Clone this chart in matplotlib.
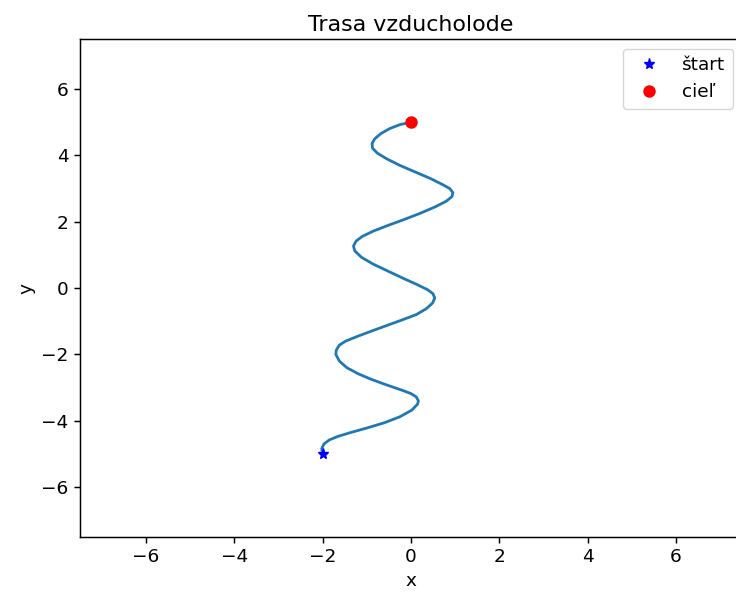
import matplotlib.pyplot as plt

# points read along the route (x, y)
route_x = [-2.0, -2.02, -1.97, -1.85, -1.65, -1.35, -1.0, -0.6, -0.25, 0.02,
           0.15, 0.17, 0.12, 0.0, -0.2, -0.55, -0.9, -1.2, -1.45, -1.62,
           -1.70, -1.69, -1.62, -1.48, -1.2, -0.9, -0.55, -0.2, 0.12, 0.35,
           0.49, 0.54, 0.50, 0.38, 0.15, -0.15, -0.5, -0.85, -1.12, -1.27,
           -1.30, -1.24, -1.10, -0.85, -0.5, -0.15, 0.2, 0.55, 0.80, 0.93,
           0.95, 0.88, 0.72, 0.45, 0.1, -0.25, -0.55, -0.76, -0.87, -0.88,
           -0.82, -0.68, -0.48, -0.25, 0.0]
route_y = [-5.0, -4.85, -4.70, -4.58, -4.47, -4.35, -4.22, -4.06, -3.88, -3.68,
           -3.50, -3.40, -3.28, -3.18, -3.08, -2.92, -2.75, -2.58, -2.40, -2.20,
           -2.00, -1.87, -1.72, -1.60, -1.45, -1.30, -1.13, -0.96, -0.80, -0.62,
           -0.45, -0.30, -0.17, -0.05, 0.10, 0.28, 0.50, 0.72, 0.93, 1.12,
           1.27, 1.42, 1.56, 1.72, 1.90, 2.07, 2.25, 2.45, 2.62, 2.76,
           2.88, 3.00, 3.12, 3.30, 3.50, 3.70, 3.90, 4.07, 4.22, 4.36,
           4.50, 4.66, 4.81, 4.93, 5.0]
start = (-2, -5)
goal = (0, 5)

s = 1.33
plt.rcParams['font.size'] = 10 * s

fig = plt.figure(figsize=(7.36, 5.95), dpi=100)
ax = fig.add_axes([0.1083, 0.0978, 0.900, 0.836])

ax.plot(route_x, route_y, lw=1.5 * s, solid_joinstyle='round')
ax.plot(start[0], start[1], 'b*', ms=6 * s, label='štart')
ax.plot(goal[0], goal[1], 'ro', ms=6 * s, label='cieľ')

ax.set_xlim(-7.5, 7.5)
ax.set_ylim(-7.5, 7.5)
ax.set_xlabel('x')
ax.set_ylabel('y')
ax.set_title('Trasa vzducholode')
ax.tick_params(length=3.5 * s, width=0.8 * s)
for sp in ax.spines.values():
    sp.set_linewidth(0.8 * s)
ax.legend(loc='upper right')

fig.savefig('out.png')
